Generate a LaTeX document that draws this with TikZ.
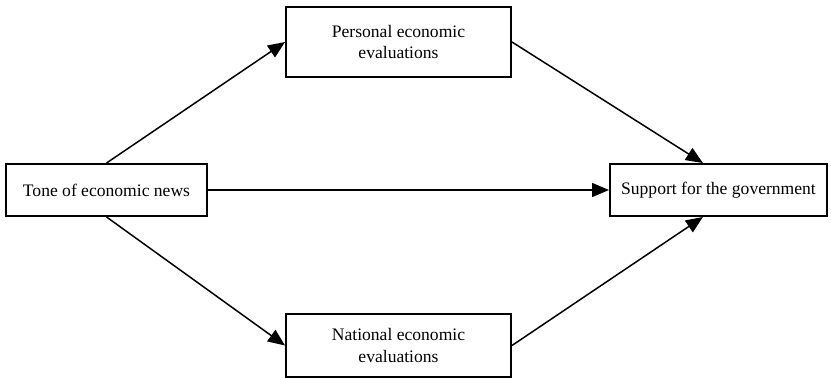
\documentclass[tikz,border=0pt]{standalone}
\usepackage{fontspec}
\setmainfont{Liberation Serif}
\usepackage{tikz}
\usetikzlibrary{positioning}
\usetikzlibrary{arrows.meta}

\begin{document}
\begin{tikzpicture}[
		varbox/.style={draw, line width=1.1pt, align=center, inner sep=0pt, font=\fontsize{10}{12.5}\selectfont},
		path/.style={line width=0.85pt, -{Triangle[length=3.4mm, width=2.8mm]}}
		]
		
		\useasboundingbox (0,0) rectangle (16.62,-7.56);
		
		\node[varbox, minimum width=4.02cm, minimum height=1.04cm] (news) at (2.13,-3.80) {Tone of economic news};
		\node[varbox, minimum width=4.50cm, minimum height=1.40cm] (pers) at (7.97,-0.84) {Personal economic\\evaluations};
		\node[varbox, minimum width=4.50cm, minimum height=1.26cm] (natl) at (7.97,-6.91) {National economic\\evaluations};
		\node[varbox, minimum width=4.34cm, minimum height=1.04cm] (sup) at (14.37,-3.80) {Support for the government};
		
		%indirect paths
		\draw[path] (news.north) -- (pers.west);
		\draw[path] (news.south) -- (natl.west);
		\draw[path] (pers.east) -- (sup.120);
		\draw[path] (natl.east) -- (sup.240);
		
		%direct path
		\draw[path] (news.east) -- (sup.west);
	\end{tikzpicture}
\end{document}
